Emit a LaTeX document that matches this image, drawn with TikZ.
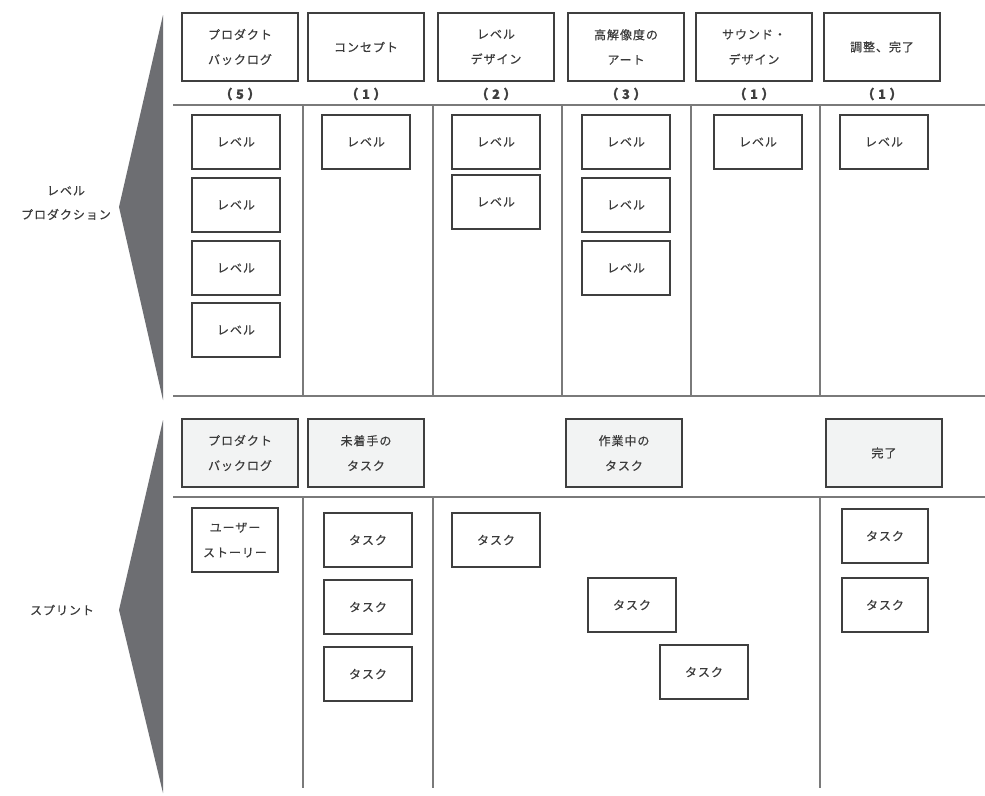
\documentclass[tikz,border=0pt]{standalone}
\usepackage{fontspec}
\setmainfont[LetterSpace=8,FakeBold=0.35]{Noto Sans CJK JP}
\definecolor{boxc}{HTML}{3F3F3F}
\definecolor{divc}{HTML}{7A7A7A}
\definecolor{txtc}{HTML}{3A3A3A}
\definecolor{trig}{HTML}{6D6E72}
\definecolor{hfill}{HTML}{F2F3F3}
\newcommand{\cntx}[1]{（\kern3.5pt#1\kern3.5pt）}
\begin{document}
\begin{tikzpicture}[x=1pt,y=-1pt,
  base/.style={draw=boxc,line width=2pt,fill=white,text=txtc,align=center,
    font=\fontsize{12}{25}\selectfont,inner sep=0pt},
  hdr/.style={base,minimum width=116pt,minimum height=68pt},
  shdr/.style={hdr,fill=hfill},
  lvl/.style={base,minimum width=88pt,minimum height=54pt},
  task/.style={base,minimum width=88pt,minimum height=54pt},
  cnt/.style={text=boxc,font=\fontsize{13}{14}\selectfont\bfseries,inner sep=0pt},
  lbl/.style={text=txtc,align=center,font=\fontsize{12}{24}\selectfont,inner sep=0pt},
  divl/.style={draw=divc,line width=1.2pt}]
\path[use as bounding box,fill=white] (0,0) rectangle (985,795);

% left triangles and labels
\fill[trig] (163,15) -- (119,207) -- (163,400) -- cycle;
\fill[trig] (163,420) -- (119,610) -- (163,793) -- cycle;
\node[lbl] (lp) at (66,203) {レベル\\プロダクション};
\node[lbl] (sp) at (62,610) {スプリント};

% ---------- top section ----------
\draw[divl] (173,105) -- (985,105);
\draw[divl] (173,396) -- (985,396);
\foreach \x in {303,433,562,691,820}{\draw[divl] (\x,105) -- (\x,396);}

\node[hdr] (h1) at (240,47) {プロダクト\\バックログ};
\node[hdr] (h2) at (366,47) {コンセプト};
\node[hdr] (h3) at (496,47) {レベル\\デザイン};
\node[hdr] (h4) at (626,47) {高解像度の\\アート};
\node[hdr] (h5) at (754,47) {サウンド・\\デザイン};
\node[hdr] (h6) at (882,47) {調整、完了};

\node[cnt] (c1) at (240,94) {\cntx{5}};
\node[cnt] (c2) at (366,94) {\cntx{1}};
\node[cnt] (c3) at (496,94) {\cntx{2}};
\node[cnt] (c4) at (626,94) {\cntx{3}};
\node[cnt] (c5) at (754,94) {\cntx{1}};
\node[cnt] (c6) at (882,94) {\cntx{1}};

\node[lvl] (l11) at (236,142) {レベル};
\node[lvl] (l12) at (236,205) {レベル};
\node[lvl] (l13) at (236,268) {レベル};
\node[lvl] (l14) at (236,330) {レベル};
\node[lvl] (l21) at (366,142) {レベル};
\node[lvl] (l31) at (496,142) {レベル};
\node[lvl] (l32) at (496,202) {レベル};
\node[lvl] (l41) at (626,142) {レベル};
\node[lvl] (l42) at (626,205) {レベル};
\node[lvl] (l43) at (626,268) {レベル};
\node[lvl] (l51) at (758,142) {レベル};
\node[lvl] (l61) at (884,142) {レベル};

% ---------- bottom section ----------
\draw[divl] (173,497) -- (985,497);
\foreach \x in {303,433,820}{\draw[divl] (\x,497) -- (\x,788);}

\node[shdr] (s1) at (240,453) {プロダクト\\バックログ};
\node[shdr] (s2) at (366,453) {未着手の\\タスク};
\node[shdr] (s3) at (624,453) {作業中の\\タスク};
\node[shdr] (s4) at (884,453) {完了};

\node[base,minimum width=86pt,minimum height=64pt] (us) at (235,540) {ユーザー\\ストーリー};
\node[task] (t21) at (368,540) {タスク};
\node[task] (t22) at (368,607) {タスク};
\node[task] (t23) at (368,674) {タスク};
\node[task] (t31) at (496,540) {タスク};
\node[task] (t32) at (632,605) {タスク};
\node[task] (t33) at (704,672) {タスク};
\node[task,minimum width=86pt] (t41) at (885,536) {タスク};
\node[task,minimum width=86pt] (t42) at (885,605) {タスク};
\end{tikzpicture}
\end{document}
